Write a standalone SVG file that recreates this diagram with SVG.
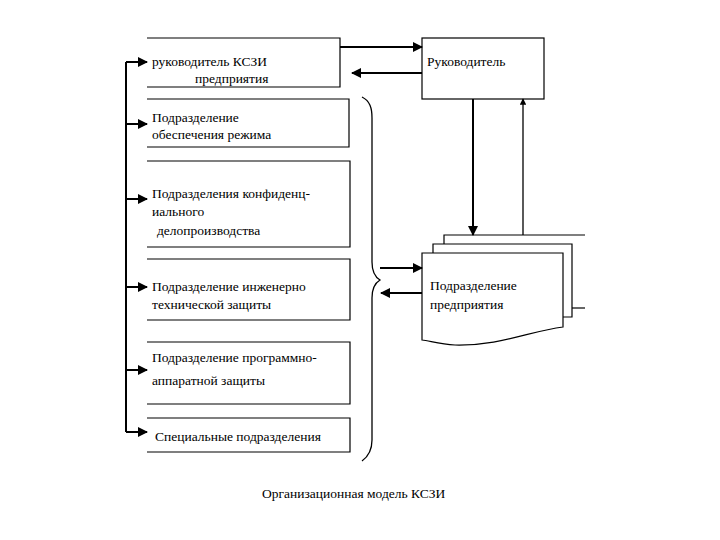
<svg xmlns="http://www.w3.org/2000/svg" width="720" height="540" viewBox="0 0 720 540">
<style>
.box{fill:none;stroke:#000;stroke-width:1.2}
.doc{fill:#fff;stroke:#000;stroke-width:1.2}
.t{font-family:"Liberation Serif","Times New Roman",serif;font-size:13.5px;fill:#000}
.c{fill:none;stroke:#000;stroke-width:2}
.thin{fill:none;stroke:#000;stroke-width:1.3}
</style>
<defs>
<marker id="ah" viewBox="0 0 10 10" refX="9" refY="5" markerWidth="5" markerHeight="5" orient="auto" markerUnits="strokeWidth">
<path d="M0,0 L10,5 L0,10 Z" fill="#000"/>
</marker>
</defs>
<rect width="720" height="540" fill="#fff"/>
<g id="n1">
<path class="box" d="M147,38 H340 V87 H147"/>
<text class="t" x="152" y="66">руководитель КСЗИ</text>
<text class="t" x="195" y="83">предприятия</text>
</g>
<g id="n2">
<path class="box" d="M147,99 H349 V147 H147"/>
<text class="t" x="152" y="122">Подразделение</text>
<text class="t" x="152" y="139">обеспечения режима</text>
</g>
<g id="n3">
<path class="box" d="M147,161 H350 V247 H147"/>
<text class="t" x="152" y="198">Подразделения конфиденц-</text>
<text class="t" x="152" y="216">иального</text>
<text class="t" x="157" y="235">делопроизводства</text>
</g>
<g id="n4">
<path class="box" d="M147,259 H350 V320 H147"/>
<text class="t" x="152" y="291">Подразделение инженерно</text>
<text class="t" x="152" y="309">технической защиты</text>
</g>
<g id="n5">
<path class="box" d="M147,342 H350 V404 H147"/>
<text class="t" x="152" y="362">Подразделение программно-</text>
<text class="t" x="152" y="385">аппаратной защиты</text>
</g>
<g id="n6">
<path class="box" d="M147,418 H350 V452 H147"/>
<text class="t" x="155" y="441">Специальные подразделения</text>
</g>
<g id="n7">
<rect class="box" x="422" y="38" width="122" height="61"/>
<text class="t" x="427" y="66">Руководитель</text>
</g>
<g id="n8">
<path class="doc" d="M444,244 V235 H585"/>
<path class="doc" d="M572,308 H585"/>
<path class="doc" d="M433,253 V244 H572 V317 H563"/>
<path class="doc" d="M422,253 H563 V327 C530,331 500,346 455,345 C440,344 430,341 422,340 Z"/>
<text class="t" x="430" y="290">Подразделение</text>
<text class="t" x="430" y="309">предприятия</text>
</g>
<g id="brace">
<path class="thin" d="M362,97 C370,101 372,108 372,118 V262 C372,272 375,277 380,280 C375,283 372,288 372,298 V440 C372,450 369,456 362,461"/>
</g>
<g id="connectors">
<path class="c" d="M126,432 V62"/>
<path class="c" d="M126,62 H147" marker-end="url(#ah)"/>
<path class="c" d="M126,124 H147" marker-end="url(#ah)"/>
<path class="c" d="M126,199 H147" marker-end="url(#ah)"/>
<path class="c" d="M126,287 H147" marker-end="url(#ah)"/>
<path class="c" d="M126,370 H147" marker-end="url(#ah)"/>
<path class="c" d="M126,432 H147" marker-end="url(#ah)"/>
<path class="c" d="M340,47 H422" marker-end="url(#ah)"/>
<path class="c" d="M422,73 H352" marker-end="url(#ah)"/>
<path class="c" d="M473,99 V235" marker-end="url(#ah)"/>
<path class="thin" d="M523,235 V99" marker-end="url(#ah)" stroke-width="1.5"/>
<path class="c" d="M380,268 H422" marker-end="url(#ah)"/>
<path class="c" d="M422,293 H381" marker-end="url(#ah)"/>
</g>
<text class="t" x="262" y="498" font-size="14">Организационная модель КСЗИ</text>
</svg>
